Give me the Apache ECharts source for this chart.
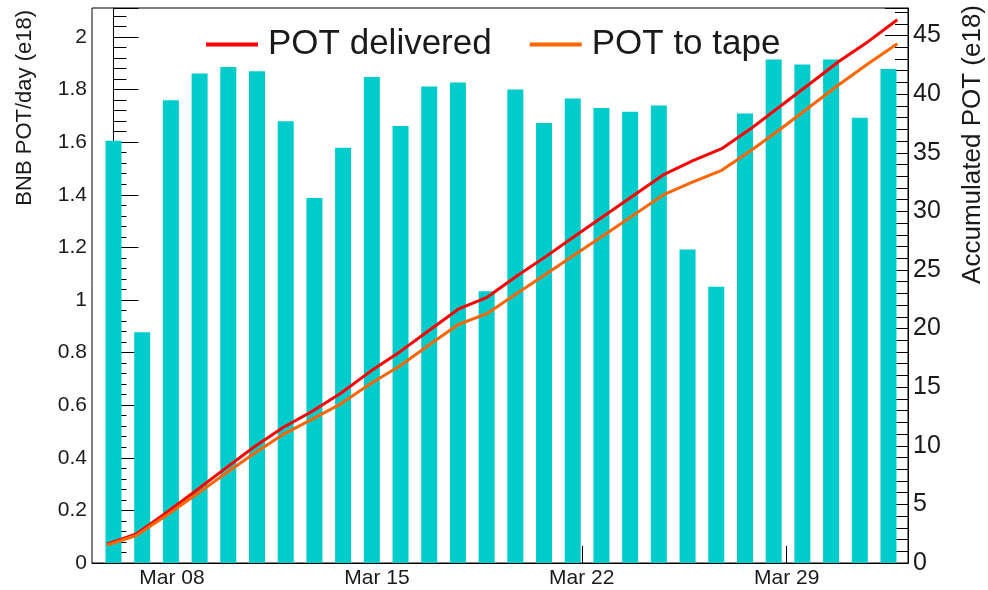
<!DOCTYPE html>
<html>
<head>
<meta charset="utf-8">
<script src="https://cdn.jsdelivr.net/npm/echarts@6/dist/echarts.min.js"></script>
<style>
  html, body { margin: 0; padding: 0; background: #fff; }
  #chart { width: 988px; height: 590px; }
</style>
</head>
<body>
<div id="chart"></div>
<script>
// daily BNB POT (e18), one bar per bin
const dailyPOT = [1.605, 0.877, 1.759, 1.861, 1.886, 1.870, 1.679, 1.388, 1.579, 1.848,
  1.661, 1.812, 1.827, 1.033, 1.800, 1.673, 1.766, 1.730, 1.716, 1.739,
  1.192, 1.050, 1.709, 1.914, 1.895, 1.914, 1.693, 1.878]

// accumulated POT (e18), sampled once a day (day of March)
const accDays = [5.78, 6.78, 7.78, 8.78, 9.78, 10.78, 11.78, 12.78, 13.78, 14.78,
  15.78, 16.78, 17.78, 18.78, 19.78, 20.78, 21.78, 22.78, 23.78, 24.78,
  25.78, 26.78, 27.78, 28.78, 29.78, 30.78, 31.78, 32.78]
const potDelivered = [1.61, 2.48, 4.24, 6.10, 7.99, 9.86, 11.54, 12.93, 14.50, 16.35,
  18.01, 19.83, 21.65, 22.69, 24.49, 26.16, 27.92, 29.65, 31.37, 33.11,
  34.30, 35.35, 37.06, 38.97, 40.87, 42.78, 44.48, 46.35]
const potToTape = [1.52, 2.35, 4.00, 5.75, 7.55, 9.30, 10.95, 12.25, 13.60, 15.30,
  16.80, 18.60, 20.35, 21.30, 23.00, 24.65, 26.35, 28.00, 29.70, 31.40,
  32.50, 33.50, 35.20, 37.00, 38.90, 40.80, 42.60, 44.30]

// date ticks on the time axis
const tickDays = [8, 15, 22, 29]
const tickLabels = ['Mar 08', 'Mar 15', 'Mar 22', 'Mar 29']

const font = 'Liberation Sans'
const textColor = '#1a1a1a'

const chart = echarts.init(document.getElementById('chart'))

const option = {
  animation: false,
  grid: {
    left: 92, right: 80, top: 8, bottom: 27,
    show: true, borderColor: '#000', borderWidth: 1,
    outerBoundsMode: 'none'
  },
  legend: {
    data: ['POT delivered', 'POT to tape'],
    left: 206, top: 27, padding: 0,
    icon: 'rect', itemWidth: 52, itemHeight: 4, itemGap: 38,
    textStyle: { fontFamily: font, fontSize: 35, color: textColor, padding: [0, 0, 0, 5] }
  },
  xAxis: [
    {
      type: 'value', min: 5.267, max: 33.145,
      axisLine: { show: true, lineStyle: { color: '#000', width: 1 } },
      axisTick: { show: true, inside: true, length: 17, customValues: tickDays, lineStyle: { color: '#000' } },
      axisLabel: {
        customValues: tickDays,
        formatter: v => tickLabels[tickDays.indexOf(v)] || '',
        fontFamily: font, fontSize: 21, color: textColor, margin: 5
      },
      splitLine: { show: false }
    },
    // bins of the daily histogram
    { type: 'value', min: -0.749, max: 27.68, show: false }
  ],
  yAxis: [
    {
      type: 'value', min: 0, max: 2.11, interval: 0.2,
      axisLine: { show: true, lineStyle: { color: '#000', width: 1 } },
      axisTick: { show: true, inside: true, length: 25, lineStyle: { color: '#000' } },
      minorTick: { show: true, splitNumber: 5, length: 13, lineStyle: { color: '#000' } },
      axisLabel: { showMaxLabel: false, fontFamily: font, fontSize: 21, color: textColor, margin: 5 },
      splitLine: { show: false }
    },
    {
      type: 'value', min: 0, max: 47.35, interval: 5, position: 'right',
      axisLine: { show: true, lineStyle: { color: '#000', width: 1 } },
      axisTick: { show: true, inside: true, length: 23, lineStyle: { color: '#000' } },
      minorTick: { show: true, splitNumber: 5, length: 13, lineStyle: { color: '#000' } },
      axisLabel: { showMaxLabel: false, fontFamily: font, fontSize: 25, color: textColor, margin: 5 },
      splitLine: { show: false }
    }
  ],
  graphic: [
    {
      type: 'text', x: 25, y: 10, rotation: Math.PI / 2,
      style: { text: 'BNB POT/day (e18)', font: '22px "Liberation Sans"', fill: textColor, align: 'right', verticalAlign: 'middle' }
    },
    {
      type: 'text', x: 973, y: 5, rotation: Math.PI / 2,
      style: { text: 'Accumulated POT (e18)', font: '26px "Liberation Sans"', fill: textColor, align: 'right', verticalAlign: 'middle' }
    }
  ],
  series: [
    {
      name: 'daily', type: 'bar', xAxisIndex: 1, yAxisIndex: 0,
      barWidth: 16, itemStyle: { color: '#00cccc' },
      data: dailyPOT.map((v, i) => [i, v])
    },
    {
      name: 'POT delivered', type: 'line', xAxisIndex: 0, yAxisIndex: 1,
      showSymbol: false, color: '#ff0000', lineStyle: { width: 3, color: '#ff0000' }, z: 3,
      data: accDays.map((d, i) => [d, potDelivered[i]])
    },
    {
      name: 'POT to tape', type: 'line', xAxisIndex: 0, yAxisIndex: 1,
      showSymbol: false, color: '#ff6600', lineStyle: { width: 3, color: '#ff6600' }, z: 3,
      data: accDays.map((d, i) => [d, potToTape[i]])
    }
  ]
}

chart.setOption(option)
</script>
</body>
</html>
